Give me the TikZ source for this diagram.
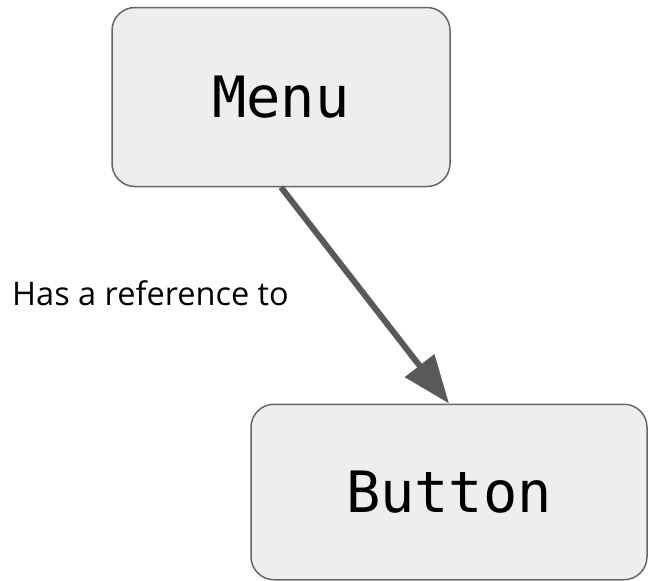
\documentclass[tikz,border=0pt]{standalone}
\usepackage{fontspec}
\setmainfont{Open Sans}
\newfontfamily\monofont{DejaVu Sans Mono}
\usetikzlibrary{arrows.meta}
\definecolor{boxfill}{HTML}{EEEEEE}
\definecolor{boxline}{HTML}{666666}
\definecolor{arrowcol}{HTML}{595959}
\begin{document}
\begin{tikzpicture}[x=1pt,y=-1pt,
  classbox/.style={draw=boxline, fill=boxfill, line width=1.5pt, rounded corners=23pt,
    font=\monofont\fontsize{57}{60}\selectfont, inner sep=0pt},
  link/.style={draw=arrowcol, line width=6pt, -{Triangle[length=48pt,width=36pt]}}]
\useasboundingbox (0,0) rectangle (648,581);
\node[classbox, minimum width=338pt, minimum height=179pt] (menu) at (281,97) {Menu};
\node[classbox, minimum width=396pt, minimum height=175.5pt] (button) at (449,492) {Button};
\draw[link] (menu.south) -- (button.north);
\node[anchor=base west, inner sep=0pt, font=\fontsize{32.5}{36}\selectfont] (lbl) at (12,305.7) {Has a reference to};
\end{tikzpicture}
\end{document}
